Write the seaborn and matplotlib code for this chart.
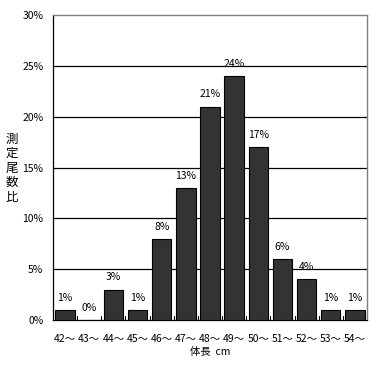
import matplotlib
matplotlib.use("Agg")
import matplotlib.pyplot as plt
import seaborn as sns
import pandas as pd
import numpy as np

categories = ["42～", "43～", "44～", "45～", "46～", "47～", "48～", "49～", "50～", "51～", "52～", "53～", "54～"]
values = [1, 0, 3, 1, 8, 13, 21, 24, 17, 6, 4, 1, 1]
yticks = [0, 5, 10, 15, 20, 25, 30]

sns.set_style("white")
plt.rcParams['font.family'] = ['Noto Sans CJK JP', 'DejaVu Sans']
plt.rcParams['text.color'] = 'black'
plt.rcParams['xtick.color'] = 'black'
plt.rcParams['ytick.color'] = 'black'
plt.rcParams['axes.labelcolor'] = 'black'

df = pd.DataFrame({"cat": categories, "val": values})

fig = plt.figure(figsize=(3.82, 3.65), dpi=100)
ax = fig.add_axes([53/382, 1-320/365, 314/382, 305/365])

sns.barplot(data=df, x="cat", y="val", ax=ax, color="#333333", width=0.8,
            edgecolor="black", linewidth=0.8, saturation=1, zorder=3)

ax.set_ylim(0, 30)
ax.set_xlim(-0.5, len(categories) - 0.5)
ax.set_yticks(yticks)
ax.set_yticklabels([f"{v}%" for v in yticks], fontsize=7.5)
ax.tick_params(axis="y", length=4, width=0.8, direction="out", pad=3)
ax.set_xticklabels(categories, fontsize=7.5)
ax.tick_params(axis="x", length=0, pad=10)
for b in np.arange(0.5, len(categories) - 1, 1.0):
    ax.plot([b, b], [0, 0.4], color="black", lw=0.8, zorder=4)

for y in yticks[1:-1]:
    ax.axhline(y, color="black", lw=0.9, zorder=1)

for i, v in enumerate(values):
    ax.text(i, v + 0.7, f"{v}%", ha="center", va="bottom", fontsize=7.5, zorder=5)

for s in ["left", "bottom"]:
    ax.spines[s].set_color("black")
    ax.spines[s].set_linewidth(0.9)
for s in ["top", "right"]:
    ax.spines[s].set_color("#808080")
    ax.spines[s].set_linewidth(1.0)

ax.set_xlabel("体長  cm", fontsize=7.5, labelpad=2)
ax.set_ylabel("")
fig.text(12/382, 1-168/365, "測\n定\n尾\n数\n比", ha="center", va="center",
         fontsize=9, linespacing=1.15)

fig.savefig("out.png", dpi=100)
